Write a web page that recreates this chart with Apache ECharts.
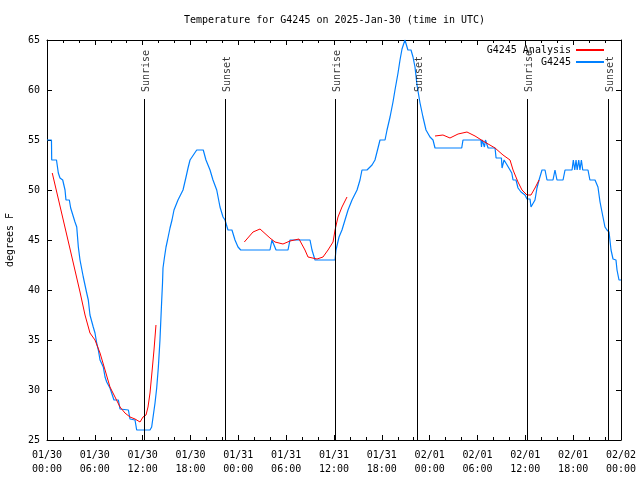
<!DOCTYPE html>
<html>
<head>
<meta charset="utf-8">
<script src="https://cdn.jsdelivr.net/npm/echarts@6/dist/echarts.min.js"></script>
<style>html,body{margin:0;padding:0;background:#fff}#c{width:640px;height:480px}</style>
</head>
<body>
<div id="c"></div>
<script>
// Hours since 2025-01-30 00:00 UTC
const xTickLabels = ['01/30\n00:00','01/30\n06:00','01/30\n12:00','01/30\n18:00','01/31\n00:00','01/31\n06:00','01/31\n12:00','01/31\n18:00','02/01\n00:00','02/01\n06:00','02/01\n12:00','02/01\n18:00','02/02\n00:00'];

const obsHours = [0,0.56,0.59,1.19,1.42,1.63,1.97,2.26,2.38,2.8,2.97,3.17,3.51,3.73,3.93,4.14,4.55,4.98,5.18,5.39,5.8,6.02,6.23,6.44,6.65,7.06,7.28,7.49,7.9,8.4,8.95,9.16,10.21,10.41,11.04,11.25,12.92,13.13,13.34,13.55,13.76,13.97,14.17,14.39,14.49,14.55,14.74,14.93,15.12,15.43,15.68,15.93,16.43,17.06,17.44,17.69,17.94,18.78,19.6,19.94,20.45,20.82,21.29,21.7,22.08,22.33,22.7,23.2,23.58,23.96,24.3,27.97,28.22,28.47,28.73,30.23,30.48,32.99,33.24,33.62,36.13,36.25,36.63,37.0,37.38,37.76,38.0,38.26,38.89,39.26,39.51,40.14,40.77,41.14,41.52,41.77,42.4,42.65,43.03,43.4,43.65,44.03,44.28,44.53,44.9,45.27,45.66,45.91,46.16,46.41,46.79,47.16,47.54,48.04,48.42,48.67,52.02,52.18,54.43,54.5,54.6,54.8,54.87,55.0,55.2,55.33,56.2,56.33,57.0,57.08,57.33,57.58,57.71,58.08,58.3,58.46,58.83,59.08,59.46,59.96,60.21,60.59,60.71,60.96,61.21,61.46,61.72,62.09,62.47,62.72,63.47,63.72,63.97,64.73,64.98,65.86,66.02,66.2,66.36,66.5,66.7,66.85,67.03,67.2,67.86,68.1,68.74,69.11,69.37,69.74,69.99,70.24,70.5,70.75,71.0,71.37,71.5,71.75,72];
const obsTemps = [55,55,53,53,51.7,51.2,51,50,49,49,48.2,48,46.8,46.3,44.3,43,41.3,39.7,39,37.5,36.3,35.7,34.7,34,33,32.3,31.3,30.8,30.2,29,29,28.1,28,27.1,27,26,26,26.3,27.5,28.7,30.2,32.3,35,39,40.7,42.2,43.3,44.3,45,46.2,47,48,49,50,51.3,52.2,53,54,54,53,52,51,50,48.3,47.3,47,46,46,45,44.3,44,44,45,45,44,44,45,45,44,43,43,44,45.3,46,47,48,48,49,50,51,52,52,52.5,53,54.2,55,55,56,57.3,58.8,60,61.7,63,64.1,65,64,64,63.3,62.3,60.5,58.7,57.3,56,55.3,55,54.2,54.2,55,55,54.3,55,55,54.3,55,55,54.2,54.2,53.2,53.2,52.2,53,53,52.5,52,51.7,51,51,50.2,49.8,49.5,49.1,49.1,48.3,48.3,49,50.2,51,52,52,51,51,52,51,51,52,52,53,52,53,52,53,52,53,52,52,51,51,50.3,48.8,47.3,46.3,46,45.8,44,43.1,43,42,41,41];

const anaHours1 = [0.66,1.63,2.89,4.14,4.77,5.39,6.02,6.65,7.28,7.9,8.53,9.16,9.78,10.41,11.04,11.67,12.04,12.42,12.67,12.92,13.17,13.42,13.67];
const anaTemps1 = [51.7,48.4,44.1,39.8,37.5,35.7,35,33.7,32,30.3,29.3,28.3,27.7,27.3,27.1,26.8,27.3,27.5,28.3,29.7,31.8,34,36.5];
const anaHours2 = [24.75,25.84,26.72,27.97,28.6,29.6,30.48,31.61,32.36,32.74,33.87,34.62,35.25,35.88,36.13,36.5,37.0,37.63];
const anaTemps2 = [44.8,45.8,46.1,45.2,44.8,44.6,44.9,45.1,44,43.3,43.1,43.3,44,44.8,46,47.3,48.3,49.3];
const anaHours3 = [48.67,49.67,50.55,51.56,52.68,53.69,54.69,56.2,57.2,58.08,58.46,59.08,59.58,60.21,60.71,61.21,61.72];
const anaTemps3 = [55.4,55.5,55.2,55.6,55.8,55.4,54.9,54.2,53.5,53,52,50.8,50,49.5,49.5,50.2,51];

const sunHours = [12.17,22.33,36.13,46.41,60.21,70.37];
const sunLabels = ['Sunrise','Sunset','Sunrise','Sunset','Sunrise','Sunset'];

const FONT = 'DejaVu Sans Mono';
const zip = (a,b) => a.map((v,i)=>[v,b[i]]);
const obsData = zip(obsHours, obsTemps);
const anaData = [].concat(zip(anaHours1,anaTemps1), [[20,'-']], zip(anaHours2,anaTemps2), [[42,'-']], zip(anaHours3,anaTemps3));

const LINE_TOP = 59.1, LABEL_BASE = 59.8;
const sunLines = sunHours.map(h => [{coord:[h,25]},{coord:[h,LINE_TOP]}]);
const sunLabelData = sunHours.map((h,i)=>({value:[h,LABEL_BASE], name:sunLabels[i]}));

const axisCommon = {
  type:'value', min:0, max:72, interval:6,
  axisLine:{show:true,onZero:false,lineStyle:{color:'#000',width:1}},
  axisTick:{show:true,inside:true,length:5,lineStyle:{color:'#000'}},
  minorTick:{show:true,splitNumber:3,length:3,lineStyle:{color:'#000'}},
  splitLine:{show:false}
};
const yCommon = {
  type:'value', min:25, max:65, interval:5,
  axisLine:{show:true,onZero:false,lineStyle:{color:'#000',width:1}},
  axisTick:{show:true,inside:true,length:5,lineStyle:{color:'#000'}},
  splitLine:{show:false}
};

const chart = echarts.init(document.getElementById('c'), null, {renderer:'canvas'});
chart.setOption({
  animation:false,
  backgroundColor:'#fff',
  title:{text:'Temperature for G4245 on 2025-Jan-30 (time in UTC)', left:179, top:10,
    textStyle:{fontFamily:FONT,fontSize:10,fontWeight:'normal',color:'#000'}},
  grid:{left:47,right:19,top:40,bottom:40,containLabel:false,outerBoundsMode:'none'},
  legend:{orient:'vertical', right:30, top:40, align:'right', itemWidth:28, itemHeight:10, itemGap:2,
    data:['G4245 Analysis','G4245'],
    itemStyle:{opacity:0},
    textStyle:{fontFamily:FONT,fontSize:10,color:'#000'}},
  xAxis:[
    Object.assign({}, axisCommon, {position:'bottom',
      axisLabel:{show:true,margin:8,fontFamily:FONT,fontSize:10,color:'#000',lineHeight:14,
        formatter:v=>xTickLabels[Math.round(v/6)]}}),
    Object.assign({}, axisCommon, {position:'top', axisLabel:{show:false}})
  ],
  yAxis:[
    Object.assign({}, yCommon, {position:'left', name:'degrees F', nameLocation:'middle', nameGap:32,
      nameTextStyle:{fontFamily:FONT,fontSize:10,color:'#000'},
      axisLabel:{show:true,margin:7,fontFamily:FONT,fontSize:10,color:'#000'}}),
    Object.assign({}, yCommon, {position:'right', axisLabel:{show:false}})
  ],
  series:[
    {name:'G4245 Analysis', type:'line', data:anaData, symbol:'none', connectNulls:false,
      lineStyle:{color:'#ff0000',width:1}, itemStyle:{color:'#ff0000'}, z:3},
    {name:'G4245', type:'line', data:obsData, symbol:'none',
      lineStyle:{color:'#0080ff',width:1.2}, itemStyle:{color:'#0080ff'}, z:2,
      markLine:{silent:true, symbol:['none','none'], animation:false,
        lineStyle:{color:'#000',width:1,type:'solid'}, label:{show:false}, data:sunLines}},
    {name:'sun', type:'scatter', data:sunLabelData, symbolSize:0, silent:true,
      label:{show:true, position:'inside', rotate:90, align:'left', verticalAlign:'middle', offset:[0,2],
        formatter:p=>p.name, fontFamily:FONT, fontSize:10, color:'#000'}}
  ]
});
</script>
</body>
</html>
